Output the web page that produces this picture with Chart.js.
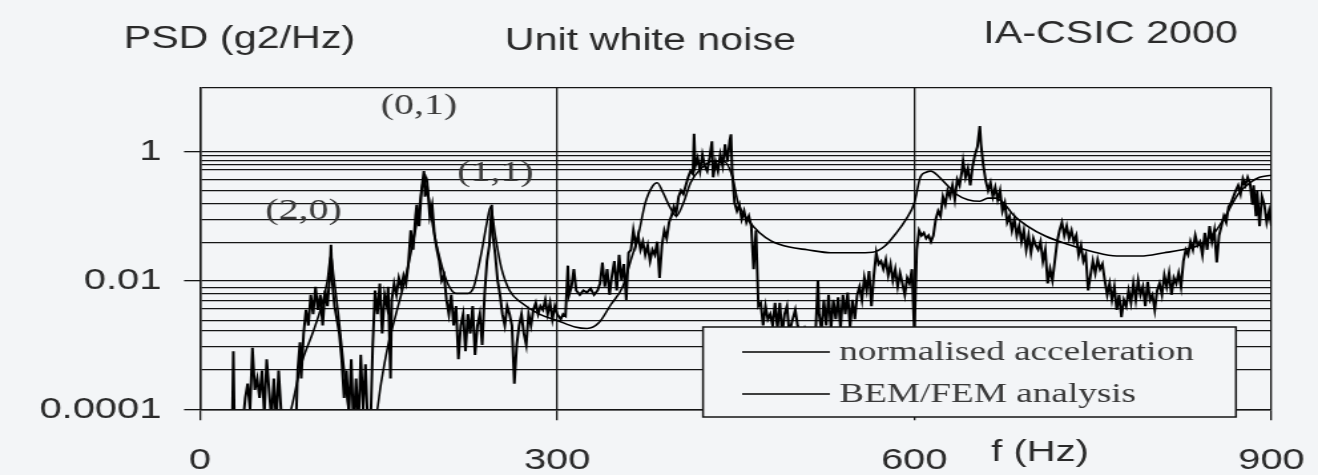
<!DOCTYPE html>
<html>
<head>
<meta charset="utf-8">
<script src="https://cdn.jsdelivr.net/npm/chart.js@4.4.1/dist/chart.umd.min.js"></script>
<style>
  html, body { margin: 0; padding: 0; background: #f3f5f7; }
</style>
</head>
<body>
<!-- drawn narrow, then stretched sideways like the scanned original -->
<canvas id="psd" width="991" height="475" style="display:block;width:1318px;height:475px"></canvas>
<script>
// measured spectrum (normalised acceleration), f in Hz, PSD in g2/Hz
var accFreq = [
  27, 28, 29, 31, 33, 35, 38, 40, 42, 44,
  46, 48, 50, 52, 54, 56, 58, 60, 62, 64,
  66, 68, 70, 73, 76, 79, 81, 82, 84, 85,
  87, 89, 91, 93, 95, 97, 99, 101, 103, 105,
  107, 109, 110, 111, 113, 115, 117, 119, 121, 123,
  125, 127, 129, 131, 133, 135, 137, 139, 141, 143,
  145, 147, 149, 151, 153, 155, 157, 158, 160, 161,
  163, 165, 167, 169, 171, 173, 175, 177, 179, 181,
  182, 184, 186, 188, 189, 191, 193, 195, 197, 199,
  201, 203, 205, 207, 209, 211, 213, 215, 217, 219,
  221, 223, 225, 227, 229, 231, 233, 235, 237, 239,
  241, 243, 245, 246, 248, 250, 252, 254, 256, 258,
  260, 262, 264, 266, 268, 270, 272, 274, 276, 278,
  280, 282, 284, 286, 288, 290, 292, 294, 296, 298,
  300, 303, 305, 307, 309, 310, 312, 314, 316, 319,
  322, 325, 328, 331, 334, 336, 338, 340, 342, 344,
  346, 348, 350, 352, 354, 356, 358, 360, 362, 364,
  366, 368, 370, 372, 374, 376, 378, 380, 382, 384,
  386, 388, 390, 392, 394, 396, 398, 400, 402, 404,
  406, 408, 410, 412, 414, 415, 416, 418, 420, 422,
  424, 426, 428, 430, 431, 433, 435, 437, 439, 441,
  443, 445, 446, 447, 449, 451, 453, 455, 457, 459,
  461, 463, 465, 467, 469, 471, 473, 475, 477, 479,
  481, 483, 485, 487, 489, 491, 493, 495, 497, 500,
  502, 505, 508, 511, 514, 517, 519, 520, 522, 524,
  526, 528, 530, 532, 534, 536, 538, 540, 542, 544,
  546, 548, 550, 552, 554, 556, 558, 560, 562, 564,
  566, 568, 570, 572, 574, 576, 578, 580, 582, 584,
  586, 588, 590, 592, 594, 596, 598, 600, 602, 604,
  606, 608, 610, 612, 614, 616, 618, 620, 622, 624,
  626, 628, 630, 632, 634, 636, 638, 640, 641, 643,
  645, 647, 649, 651, 653, 655, 656, 658, 660, 662,
  664, 666, 668, 670, 672, 674, 676, 678, 680, 682,
  684, 686, 688, 690, 692, 694, 696, 698, 700, 702,
  704, 706, 708, 710, 712, 714, 716, 718, 720, 722,
  724, 726, 728, 730, 732, 734, 736, 738, 740, 742,
  744, 746, 748, 750, 752, 754, 756, 758, 760, 762,
  764, 766, 768, 770, 772, 774, 776, 778, 780, 782,
  784, 786, 788, 790, 792, 794, 796, 798, 800, 802,
  804, 806, 808, 810, 812, 814, 816, 818, 820, 822,
  824, 826, 828, 830, 832, 834, 836, 838, 840, 842,
  844, 846, 848, 850, 852, 854, 856, 858, 860, 862,
  864, 866, 868, 870, 872, 874, 876, 878, 880, 882,
  884, 885, 887, 888, 890, 892, 894, 896, 898, 900
];
var accPsd = [
  0.00004, 0.0008, 0.00004, 0.00006, 0.0001, 0.00004, 0.00015, 0.00025, 0.0001, 0.0009,
  0.0002, 0.0003, 0.00015, 0.0004, 0.00008, 0.0006, 0.0002, 0.00007, 0.0003, 0.00006,
  0.0004, 0.0001, 0.00005, 0.00004, 0.00006, 0.00004, 0.0001, 0.0004, 0.0011, 0.0003,
  0.0015, 0.0035, 0.002, 0.006, 0.003, 0.008, 0.0035, 0.006, 0.002, 0.007,
  0.004, 0.012, 0.036, 0.01, 0.004, 0.0025, 0.0015, 0.0006, 0.00015, 0.0004,
  0.00008, 0.0006, 0.00005, 0.0003, 0.00005, 0.0007, 0.0001, 0.0005, 0.00005, 0.00004,
  0.0009, 0.007, 0.003, 0.009, 0.0015, 0.006, 0.004, 0.008, 0.0003, 0.005,
  0.009, 0.006, 0.011, 0.008, 0.012, 0.009, 0.018, 0.06, 0.03, 0.1,
  0.15, 0.07, 0.25, 0.5, 0.2, 0.3, 0.1, 0.15, 0.05, 0.03,
  0.02, 0.01, 0.012, 0.005, 0.003, 0.006, 0.002, 0.004, 0.0006, 0.002,
  0.003, 0.0008, 0.003, 0.0015, 0.004, 0.0007, 0.002, 0.003, 0.001, 0.006,
  0.02, 0.035, 0.15, 0.05, 0.025, 0.01, 0.006, 0.003, 0.002, 0.004,
  0.003, 0.002, 0.00025, 0.001, 0.002, 0.003, 0.0015, 0.001, 0.003, 0.002,
  0.0035, 0.0045, 0.003, 0.004, 0.0035, 0.005, 0.003, 0.0045, 0.0025, 0.004,
  0.003, 0.0025, 0.003, 0.0028, 0.017, 0.006, 0.008, 0.015, 0.007, 0.006,
  0.007, 0.0065, 0.0075, 0.006, 0.007, 0.009, 0.019, 0.008, 0.015, 0.006,
  0.012, 0.02, 0.007, 0.025, 0.01, 0.018, 0.005, 0.027, 0.03, 0.06,
  0.035, 0.05, 0.03, 0.04, 0.025, 0.035, 0.02, 0.03, 0.025, 0.04,
  0.011, 0.035, 0.06, 0.045, 0.08, 0.1, 0.14, 0.11, 0.2, 0.25,
  0.22, 0.3, 0.4, 0.5, 0.45, 1.9, 0.6, 0.8, 0.5, 0.9,
  0.6, 0.5, 0.8, 1.45, 0.4, 0.7, 0.5, 0.9, 0.6, 1.3,
  0.7, 1.5, 1.86, 0.5, 0.16, 0.12, 0.15, 0.09, 0.12, 0.08,
  0.1, 0.07, 0.015, 0.06, 0.004, 0.0045, 0.002, 0.004, 0.0025, 0.003,
  0.002, 0.0045, 0.0018, 0.0045, 0.0015, 0.003, 0.004, 0.0015, 0.0022, 0.0035,
  0.002, 0.0012, 0.0018, 0.0013, 0.0016, 0.0015, 0.01, 0.003, 0.0017, 0.005,
  0.002, 0.006, 0.0018, 0.005, 0.0025, 0.0055, 0.0018, 0.006, 0.003, 0.0065,
  0.0019, 0.005, 0.0025, 0.006, 0.008, 0.005, 0.011, 0.007, 0.014, 0.004,
  0.012, 0.027, 0.018, 0.02, 0.015, 0.021, 0.012, 0.018, 0.01, 0.015,
  0.008, 0.013, 0.009, 0.006, 0.011, 0.009, 0.015, 0.0015, 0.03, 0.06,
  0.05, 0.055, 0.045, 0.05, 0.04, 0.05, 0.09, 0.12, 0.1, 0.2,
  0.15, 0.25, 0.2, 0.3, 0.18, 0.37, 0.3, 0.5, 0.71, 0.4,
  0.55, 0.3, 0.6, 0.9, 1.2, 2.5, 1.3, 0.6, 0.35, 0.25,
  0.33, 0.2, 0.28, 0.18, 0.25, 0.12, 0.16, 0.08, 0.1, 0.06,
  0.09, 0.05, 0.07, 0.04, 0.06, 0.03, 0.05, 0.027, 0.045, 0.035,
  0.03, 0.04, 0.02, 0.03, 0.009, 0.015, 0.01, 0.02, 0.04, 0.06,
  0.08, 0.05, 0.07, 0.045, 0.06, 0.04, 0.05, 0.025, 0.035, 0.02,
  0.025, 0.007, 0.012, 0.02, 0.013, 0.021, 0.015, 0.018, 0.01, 0.006,
  0.009, 0.005, 0.008, 0.0035, 0.006, 0.0027, 0.005, 0.004, 0.007, 0.0045,
  0.009, 0.005, 0.01, 0.006, 0.008, 0.004, 0.0095, 0.005, 0.006, 0.0035,
  0.007, 0.009, 0.006, 0.012, 0.008, 0.013, 0.006, 0.011, 0.009, 0.013,
  0.008, 0.02, 0.03, 0.025, 0.04, 0.03, 0.05, 0.035, 0.04, 0.025,
  0.055, 0.03, 0.07, 0.04, 0.06, 0.019, 0.05, 0.07, 0.1, 0.08,
  0.14, 0.16, 0.2, 0.25, 0.3, 0.22, 0.38, 0.3, 0.4, 0.32,
  0.15, 0.3, 0.1, 0.25, 0.07, 0.2, 0.15, 0.08, 0.12, 0.07
];

// BEM/FEM prediction
var bemFreq = [
  60, 75, 85, 95, 102, 107, 110, 112, 116, 120,
  124, 128, 140, 148, 152, 158, 165, 172, 178, 183,
  187, 189, 192, 196, 202, 208, 215, 225, 230, 236,
  241, 244, 248, 253, 260, 270, 285, 300, 315, 325,
  335, 345, 355, 362, 368, 374, 380, 384, 389, 395,
  400, 406, 412, 420, 430, 440, 447, 452, 460, 470,
  480, 495, 510, 530, 550, 565, 575, 585, 593, 600,
  605, 610, 614, 620, 627, 635, 645, 655, 662, 668,
  675, 683, 695, 710, 730, 750, 770, 790, 810, 825,
  840, 852, 862, 872, 882, 890, 900
];
var bemPsd = [
  0.00003, 0.00008, 0.0005, 0.0016, 0.004, 0.01, 0.025, 0.0126, 0.0032, 0.00063,
  0.00013, 0.00005, 0.00004, 0.00008, 0.00025, 0.001, 0.0032, 0.01, 0.032, 0.1,
  0.32, 0.45, 0.2, 0.063, 0.02, 0.009, 0.0063, 0.0063, 0.008, 0.025,
  0.08, 0.14, 0.05, 0.016, 0.007, 0.0045, 0.003, 0.0024, 0.0019, 0.0018,
  0.0022, 0.0042, 0.008, 0.021, 0.049, 0.16, 0.29, 0.33, 0.23, 0.135,
  0.1, 0.16, 0.33, 0.53, 0.71, 0.71, 0.42, 0.16, 0.089, 0.055,
  0.041, 0.033, 0.03, 0.027, 0.027, 0.0275, 0.034, 0.055, 0.089, 0.16,
  0.4, 0.48, 0.5, 0.42, 0.31, 0.22, 0.18, 0.17, 0.19, 0.19,
  0.16, 0.105, 0.07, 0.049, 0.036, 0.028, 0.024, 0.024, 0.027, 0.03,
  0.036, 0.055, 0.105, 0.22, 0.33, 0.4, 0.43
];

// axis ticks / grid lines as they appear in the original
var yGridValues = [10, 1, 0.854, 0.732, 0.628, 0.53, 0.371, 0.25, 0.157, 0.0884, 0.0384,
  0.01, 0.0078, 0.0062, 0.0048, 0.0037, 0.0024, 0.00165, 0.00094, 0.00041, 0.0001];
var yLabelValues = [1, 0.01, 0.0001];
var xTickValues = [0, 300, 600, 900];

// mode annotations
var modeLabels = ['(2,0)', '(0,1)', '(1,1)'];
var modeFreq = [87, 184, 248];
var modePsd = [0.118, 5.07, 0.46];

var headerTexts = ['PSD (g2/Hz)', 'Unit white noise', 'IA-CSIC 2000'];
var xAxisName = 'f (Hz)';

var BG = '#f3f5f7';
var INK = '#151515';
var SANS = '"Liberation Sans", Arial, Helvetica, sans-serif';
var SERIF = '"Liberation Serif", "Times New Roman", serif';

function pairs(xs, ys) {
  return xs.map(function (f, i) { return { x: f, y: ys[i] }; });
}

var decor = {
  id: 'decor',
  beforeDraw: function (chart) {
    var ctx = chart.ctx;
    ctx.save();
    ctx.fillStyle = BG;
    ctx.fillRect(0, 0, chart.width, chart.height);
    ctx.restore();
  },
  afterDatasetsDraw: function (chart) {
    var ctx = chart.ctx;
    var xs = chart.scales.x, ys = chart.scales.y;
    ctx.save();
    ctx.textAlign = 'center';
    ctx.textBaseline = 'middle';

    // (m,n) labels next to the peaks
    ctx.font = '30px ' + SERIF;
    ctx.fillStyle = '#3a3a3a';
    for (var i = 0; i < modeLabels.length; i++) {
      ctx.fillText(modeLabels[i], xs.getPixelForValue(modeFreq[i]), ys.getPixelForValue(modePsd[i]));
    }

    // header line
    ctx.font = '31px ' + SANS;
    ctx.fillStyle = '#2a2a2a';
    ctx.fillText(headerTexts[0], 180, 39);
    ctx.fillText(headerTexts[1], 489, 41);
    ctx.fillText(headerTexts[2], 835, 34);
    ctx.font = '30px ' + SANS;
    ctx.fillText(xAxisName, 782, 453);

    // legend box sitting over the lower right of the plot
    var bx = 528.6, by = 327, bw = 400.7, bh = 90;
    ctx.fillStyle = BG;
    ctx.fillRect(bx, by, bw, bh);
    ctx.strokeStyle = INK;
    ctx.lineWidth = 1.5;
    ctx.strokeRect(bx, by, bw, bh);
    ctx.font = '28px ' + SERIF;
    ctx.textAlign = 'left';
    chart.data.datasets.forEach(function (ds, k) {
      var ly = 352 + k * 42;
      ctx.beginPath();
      ctx.moveTo(558, ly);
      ctx.lineTo(624, ly);
      ctx.strokeStyle = ds.borderColor;
      ctx.lineWidth = 1.5;
      ctx.stroke();
      ctx.fillStyle = '#3a3a3a';
      ctx.fillText(ds.label, 631, ly + 1);
    });
    ctx.restore();
  }
};

var chart = new Chart(document.getElementById('psd'), {
  type: 'line',
  data: {
    datasets: [{
      label: 'normalised acceleration',
      data: pairs(accFreq, accPsd),
      borderColor: '#000000',
      borderWidth: 2,
      pointRadius: 0,
      tension: 0
    }, {
      label: 'BEM/FEM analysis',
      data: pairs(bemFreq, bemPsd),
      borderColor: '#000000',
      borderWidth: 1.6,
      pointRadius: 0,
      cubicInterpolationMode: 'monotone'
    }]
  },
  options: {
    responsive: false,
    animation: false,
    devicePixelRatio: 1,
    layout: { padding: { left: 0, right: 35, top: 87.3, bottom: 0 } },
    plugins: {
      legend: { display: false },
      tooltip: { enabled: false }
    },
    scales: {
      x: {
        type: 'linear',
        min: 0,
        max: 900,
        afterBuildTicks: function (s) { s.ticks = xTickValues.map(function (v) { return { value: v }; }); },
        afterFit: function (s) { s.height = 65.7; s.paddingLeft = 0; s.paddingRight = 0; },
        ticks: {
          autoSkip: false,
          maxRotation: 0,
          padding: 22,
          color: '#2a2a2a',
          font: { family: SANS, size: 30 }
        },
        grid: { color: INK, lineWidth: 1.3, tickLength: 11, tickColor: INK },
        border: { color: INK, width: 1.5 }
      },
      y: {
        type: 'logarithmic',
        min: 0.0001,
        max: 10,
        afterBuildTicks: function (s) { s.ticks = yGridValues.map(function (v) { return { value: v }; }); },
        afterFit: function (s) { s.width = 150.4; },
        ticks: {
          autoSkip: false,
          padding: 17,
          color: '#2a2a2a',
          font: { family: SANS, size: 30 },
          callback: function (v) { return yLabelValues.indexOf(v) >= 0 ? String(v) : ''; }
        },
        grid: {
          color: INK,
          lineWidth: 1.3,
          tickLength: 12,
          tickColor: function (c) {
            return c.tick && yLabelValues.indexOf(c.tick.value) >= 0 ? INK : 'rgba(0,0,0,0)';
          }
        },
        border: { color: INK, width: 1.5 }
      }
    }
  },
  plugins: [decor]
});
</script>
</body>
</html>
